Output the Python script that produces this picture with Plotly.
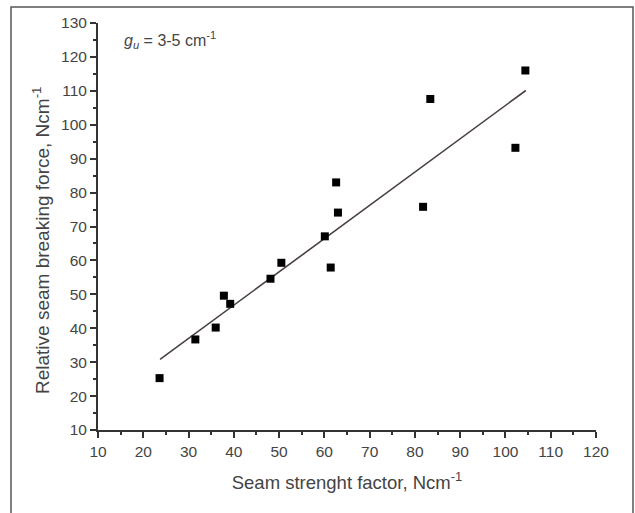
import plotly.graph_objects as go

# Data
seam_factor = [23.6, 31.5, 36.0, 37.8, 39.2, 48.1, 50.5, 60.1, 61.4, 62.6, 63.0, 81.8, 83.4, 102.2, 104.4]
breaking_force = [25.3, 36.7, 40.2, 49.6, 47.2, 54.6, 59.3, 67.1, 57.9, 83.0, 74.1, 75.8, 107.6, 93.2, 116.0]

fit_x = [23.7, 104.5]
fit_y = [30.8, 110.1]

x_ticks = [10, 20, 30, 40, 50, 60, 70, 80, 90, 100, 110, 120]
y_ticks = [10, 20, 30, 40, 50, 60, 70, 80, 90, 100, 110, 120, 130]

FONT = "Liberation Sans, Arial, sans-serif"
TXT = "#444444"
AX = "#333333"

fig = go.Figure()
fig.add_trace(go.Scatter(x=fit_x, y=fit_y, mode="lines",
                         line=dict(color="#4a4040", width=1.6), showlegend=False))
fig.add_trace(go.Scatter(x=seam_factor, y=breaking_force, mode="markers",
                         marker=dict(symbol="square", size=8, color="black"),
                         showlegend=False))

axis_common = dict(
    showgrid=False, zeroline=False, showline=True, linecolor=AX, linewidth=2,
    ticks="outside", ticklen=6, tickwidth=2, tickcolor=AX,
    tickfont=dict(family=FONT, size=15.5, color=TXT),
    minor=dict(ticks="outside", ticklen=3, tickwidth=2, tickcolor=AX, dtick=5, showgrid=False),
    mirror=False,
)

fig.update_xaxes(range=[10, 120], tickvals=x_ticks, ticktext=[str(v) for v in x_ticks],
                 title=dict(text="Seam strenght factor, Ncm<sup>-1</sup>",
                            font=dict(family=FONT, size=18.5, color=TXT), standoff=17),
                 **axis_common)
fig.update_yaxes(range=[10, 130], tickvals=y_ticks, ticktext=[str(v) for v in y_ticks],
                 **axis_common)

# y-axis title (placed slightly below the plot centre, as in the reference)
fig.add_annotation(xref="paper", yref="paper", x=(41 - 98) / 498, y=(430 - 240) / 407,
                   xanchor="center", yanchor="middle", showarrow=False, textangle=-90,
                   text="Relative seam breaking force, Ncm<sup>-1</sup>",
                   font=dict(family=FONT, size=19, color=TXT))

fig.add_annotation(xref="paper", yref="paper", x=(122 - 98) / 498, y=(430 - 40) / 407,
                   xanchor="left", yanchor="middle", showarrow=False,
                   text="<i>g<sub>u</sub></i> = 3-5 cm<sup>-1</sup>",
                   font=dict(family=FONT, size=16, color=TXT))

# outer frame of the figure
fig.add_shape(type="rect", xref="paper", yref="paper",
              x0=(11 - 98) / 498, x1=(633 - 98) / 498,
              y0=(430 - 530) / 407, y1=(430 - 7) / 407,
              line=dict(color="#555555", width=1.5), layer="below")

fig.update_layout(
    width=635, height=513,
    margin=dict(l=98, r=39, t=23, b=83),
    paper_bgcolor="white", plot_bgcolor="white",
    font=dict(family=FONT, color=TXT),
)

fig.write_html("out.html")
